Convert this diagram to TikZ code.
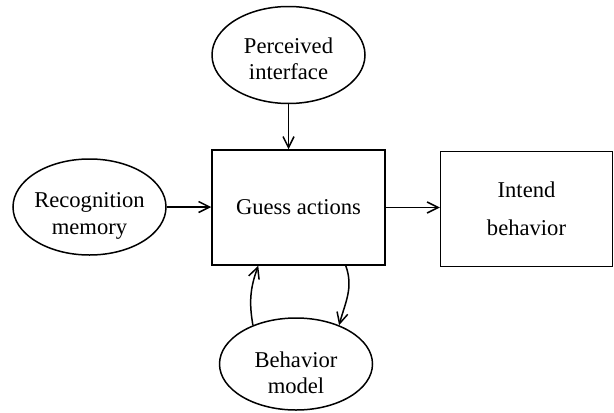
\documentclass[tikz,border=0pt]{standalone}
\usepackage{fontspec}
\setmainfont{Liberation Serif}
\usetikzlibrary{shapes.geometric,arrows.meta}

\begin{document}
\begin{tikzpicture}[x=0.5pt,y=-0.5pt, line width=0.75pt,
    >={Straight Barb[length=5.5pt,width=5.5pt]},
    oval/.style={draw, ellipse, inner sep=0pt, minimum width=76.5pt},
    txt/.style={align=center, inner sep=0pt, font=\fontsize{11.3}{13}\selectfont},
    block/.style={draw, rectangle, minimum width=86.5pt, minimum height=57.5pt,
        align=center, font=\fontsize{11.3}{19}\selectfont}]
    \useasboundingbox (0,0) rectangle (614,412);

    % Ovals
    \node[oval, minimum height=48.5pt] (interface) at (288.5,55) {};
    \node[oval, minimum height=48pt] (memory) at (89.5,207) {};
    \node[oval, minimum height=46pt] (model) at (296,364) {};

    % Oval texts
    \node[txt] (interfacetext) at ([yshift=-2pt]interface) {Perceived\\interface};
    \node[txt, font=\fontsize{11.3}{13.5}\selectfont] (memorytext) at ([yshift=-4.5pt]memory) {Recognition\\memory};
    \node[txt] (modeltext) at ([yshift=-4.5pt]model) {Behavior\\model};

    % Boxes
    \node[block] (guess) at (298.5,207.5) {Guess actions};
    \node[block, minimum width=86pt] (intend) at (526.5,209) {Intend\\behavior};

    % Arrows
    \draw[->] (interface.south) -- (interface.south |- guess.north);
    \draw[->] (memory.east) -- (memory.east -| guess.west);
    \draw[->] (guess.east) -- (guess.east -| intend.west);
    \draw[->] (model.138) to[out=100,in=-110] ([xshift=23.5pt]guess.south west);
    \draw[->] ([xshift=-20pt]guess.south east) to[out=-70,in=75] (model.42);
\end{tikzpicture}
\end{document}
